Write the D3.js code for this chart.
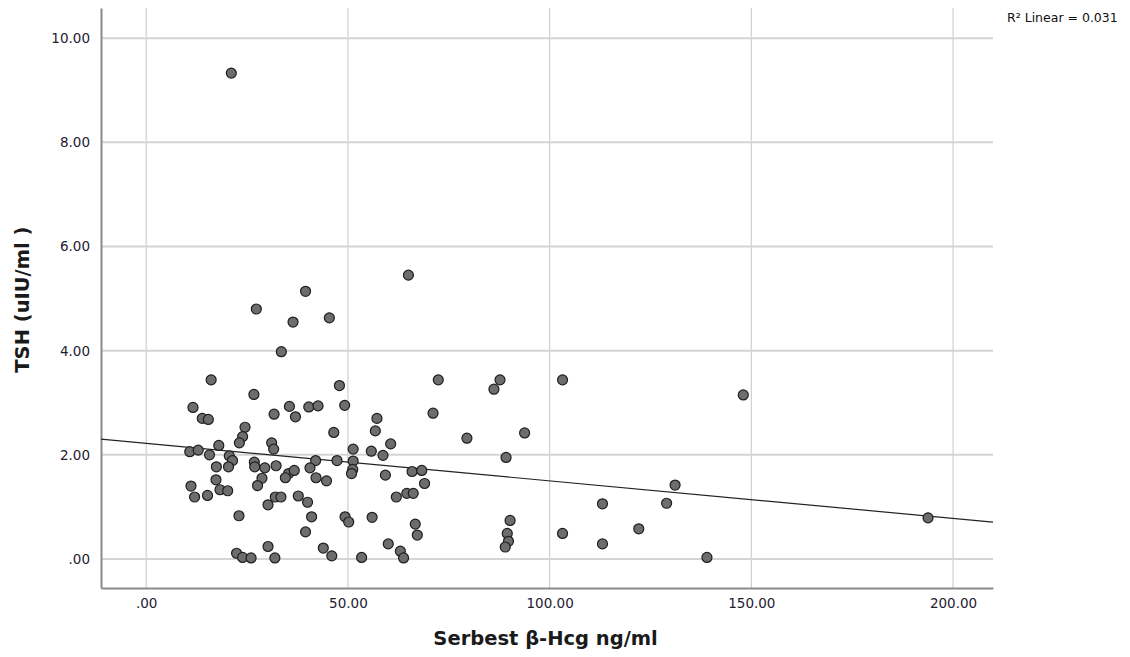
<!DOCTYPE html>
<html>
<head>
<meta charset="utf-8">
<script src="https://cdn.jsdelivr.net/npm/d3@7"></script>
<style>
	body { margin: 0; background: #fff; }
	#chart-content { width: 1130px; height: 657px; }
	text { font-family: "DejaVu Sans", Verdana, sans-serif; }
</style>
</head>
<body>
<div id="chart-content"></div>
<script>
const dest		= '#chart-content';

// serbest beta-hcg (ng/ml)
const hcgValues	= [
	39.5, 27.3, 36.4, 45.4, 33.5, 16.1, 26.7, 47.9, 11.6, 35.5,
	40.3, 42.6, 49.2, 13.9, 15.4, 31.7, 37.0, 24.5, 23.9, 23.1,
	46.5, 18.0, 31.1, 31.6, 10.8, 12.9, 15.7, 20.6, 21.4, 17.4,
	20.4, 26.8, 26.9, 29.4, 32.2, 42.0, 47.3, 51.3, 51.3, 51.2,
	50.9, 35.3, 36.7, 40.6, 34.5, 28.7, 42.1, 44.7, 17.3, 11.1,
	12.0, 15.2, 18.3, 20.2, 27.6, 32.0, 33.4, 37.7, 40.0, 30.2,
	23.0, 41.0, 49.3, 50.2, 39.5, 30.2, 43.9, 22.4, 23.9, 26.0,
	31.9, 46.0, 53.4, 21.1,
	65.0, 72.4, 71.1, 57.2, 56.8, 79.5, 60.6, 55.8, 58.7, 65.9,
	68.3, 59.3, 69.0, 62.0, 64.6, 66.2, 56.0, 66.7, 67.2, 60.0,
	63.0, 63.8,
	87.7, 86.2, 103.2, 148.0, 93.8, 89.2, 131.1, 113.1, 129.0, 90.2,
	89.5, 89.8, 89.0, 103.2, 122.1, 113.1, 139.0, 193.8
];

// TSH (uIU/ml)
const tshValues	= [
	5.14, 4.80, 4.55, 4.63, 3.98, 3.44, 3.16, 3.33, 2.91, 2.93,
	2.92, 2.94, 2.95, 2.70, 2.68, 2.78, 2.73, 2.53, 2.35, 2.23,
	2.43, 2.18, 2.23, 2.11, 2.06, 2.09, 2.00, 1.98, 1.89, 1.77,
	1.77, 1.86, 1.77, 1.75, 1.79, 1.89, 1.89, 2.11, 1.88, 1.72,
	1.64, 1.64, 1.70, 1.75, 1.56, 1.55, 1.56, 1.50, 1.52, 1.40,
	1.19, 1.22, 1.33, 1.31, 1.41, 1.19, 1.19, 1.21, 1.09, 1.04,
	0.83, 0.81, 0.81, 0.71, 0.52, 0.24, 0.21, 0.11, 0.03, 0.02,
	0.02, 0.06, 0.03, 9.33,
	5.45, 3.44, 2.80, 2.70, 2.46, 2.32, 2.21, 2.07, 1.99, 1.68,
	1.70, 1.61, 1.45, 1.19, 1.26, 1.26, 0.80, 0.67, 0.46, 0.29,
	0.15, 0.02,
	3.44, 3.26, 3.44, 3.15, 2.42, 1.95, 1.42, 1.06, 1.07, 0.74,
	0.49, 0.34, 0.23, 0.49, 0.58, 0.29, 0.03, 0.79
];

const xTicks	= [0, 50, 100, 150, 200];
const yTicks	= [0, 2, 4, 6, 8, 10];

// fit line
const fitIntercept	= 2.22;
const fitSlope		= -0.0072;
const fitLabel		= 'R\u00B2 Linear = 0.031';

const xTitle	= 'Serbest \u03B2-Hcg ng/ml';
const yTitle	= 'TSH (uIU/ml )';

function createScatter() {
	d3.select(dest).selectAll("svg").remove();

	let canvasWidth		= 1130;
	let canvasHeight	= 657;

	let margin			= { top: 8, right: 137, bottom: 69, left: 101 };
	let width			= canvasWidth - margin.left - margin.right;
	let height			= canvasHeight - margin.top - margin.bottom;

	let x				= d3.scaleLinear().range([0, width]).domain([-11.2, 209.9]);
	let y				= d3.scaleLinear().range([height, 0]).domain([-0.557, 10.58]);

	let data			= hcgValues.map((o, i) => ({ hcg: o, tsh: tshValues[i] }));

	let svg = d3.select(dest).append("svg")
		.attr("width", canvasWidth)
		.attr("height", canvasHeight)
		.append('g')
			.attr("transform", "translate(" + margin.left + "," + margin.top + ")");

	// grid
	svg.append('g')
		.attr('id', 'grid-x')
		.selectAll('line')
		.data(xTicks)
			.enter().append('line')
			.attr('x1', (o) => (x(o)))
			.attr('x2', (o) => (x(o)))
			.attr('y1', 0)
			.attr('y2', height)
			.attr('stroke', '#cfcfcf')
			.attr('stroke-width', 1.2);

	svg.append('g')
		.attr('id', 'grid-y')
		.selectAll('line')
		.data(yTicks)
			.enter().append('line')
			.attr('x1', 0)
			.attr('x2', width)
			.attr('y1', (o) => (y(o)))
			.attr('y2', (o) => (y(o)))
			.attr('stroke', '#d4d4d4')
			.attr('stroke-width', 2);

	// axes
	let xAxis = svg.append('g')
		.attr('transform', 'translate(0,' + height + ')')
		.call(d3.axisBottom(x).tickValues(xTicks).tickSize(0).tickPadding(10)
			.tickFormat((o) => (o == 0 ? '.00' : d3.format('.2f')(o))));

	let yAxis = svg.append('g')
		.call(d3.axisLeft(y).tickValues(yTicks).tickSize(0).tickPadding(11)
			.tickFormat((o) => (o == 0 ? '.00' : d3.format('.2f')(o))));

	[xAxis, yAxis].forEach((o) => {
		o.select('.domain').attr('stroke', '#8a8a8a').attr('stroke-width', 2);
		o.selectAll('text')
			.attr('font-size', '13.5px')
			.attr('font-family', '"DejaVu Sans", Verdana, sans-serif')
			.attr('fill', '#1e2030');
	});

	// regression line
	svg.append('clipPath').attr('id', 'plot-clip')
		.append('rect').attr('width', width).attr('height', height);

	svg.append('line')
		.attr('clip-path', 'url(#plot-clip)')
		.attr('x1', x(x.domain()[0]))
		.attr('x2', x(x.domain()[1]))
		.attr('y1', y(fitIntercept + fitSlope * x.domain()[0]))
		.attr('y2', y(fitIntercept + fitSlope * x.domain()[1]))
		.attr('stroke', '#222')
		.attr('stroke-width', 1.2);

	// points
	svg.append('g')
		.attr('id', 'points')
		.selectAll('circle')
		.data(data)
			.enter().append('circle')
			.attr('cx', (o) => (x(o.hcg)))
			.attr('cy', (o) => (y(o.tsh)))
			.attr('r', 5)
			.attr('fill', '#6d6d6d')
			.attr('stroke', '#1e1e1e')
			.attr('stroke-width', 1.2);

	// labels
	svg.append('text')
		.attr('x', width + 14)
		.attr('y', 14)
		.attr('font-size', '12.5px')
		.attr('fill', '#111')
		.text(fitLabel);

	svg.append('text')
		.attr('x', x(99))
		.attr('y', height + 57)
		.attr('text-anchor', 'middle')
		.attr('font-size', '19.5px')
		.attr('font-weight', 'bold')
		.attr('fill', '#1a1a1a')
		.text(xTitle);

	svg.append('text')
		.attr('transform', 'translate(' + (-72) + ',' + y(4.98) + ') rotate(-90)')
		.attr('text-anchor', 'middle')
		.attr('font-size', '19.5px')
		.attr('font-weight', 'bold')
		.attr('fill', '#1a1a1a')
		.text(yTitle);
}

createScatter();
</script>
</body>
</html>
